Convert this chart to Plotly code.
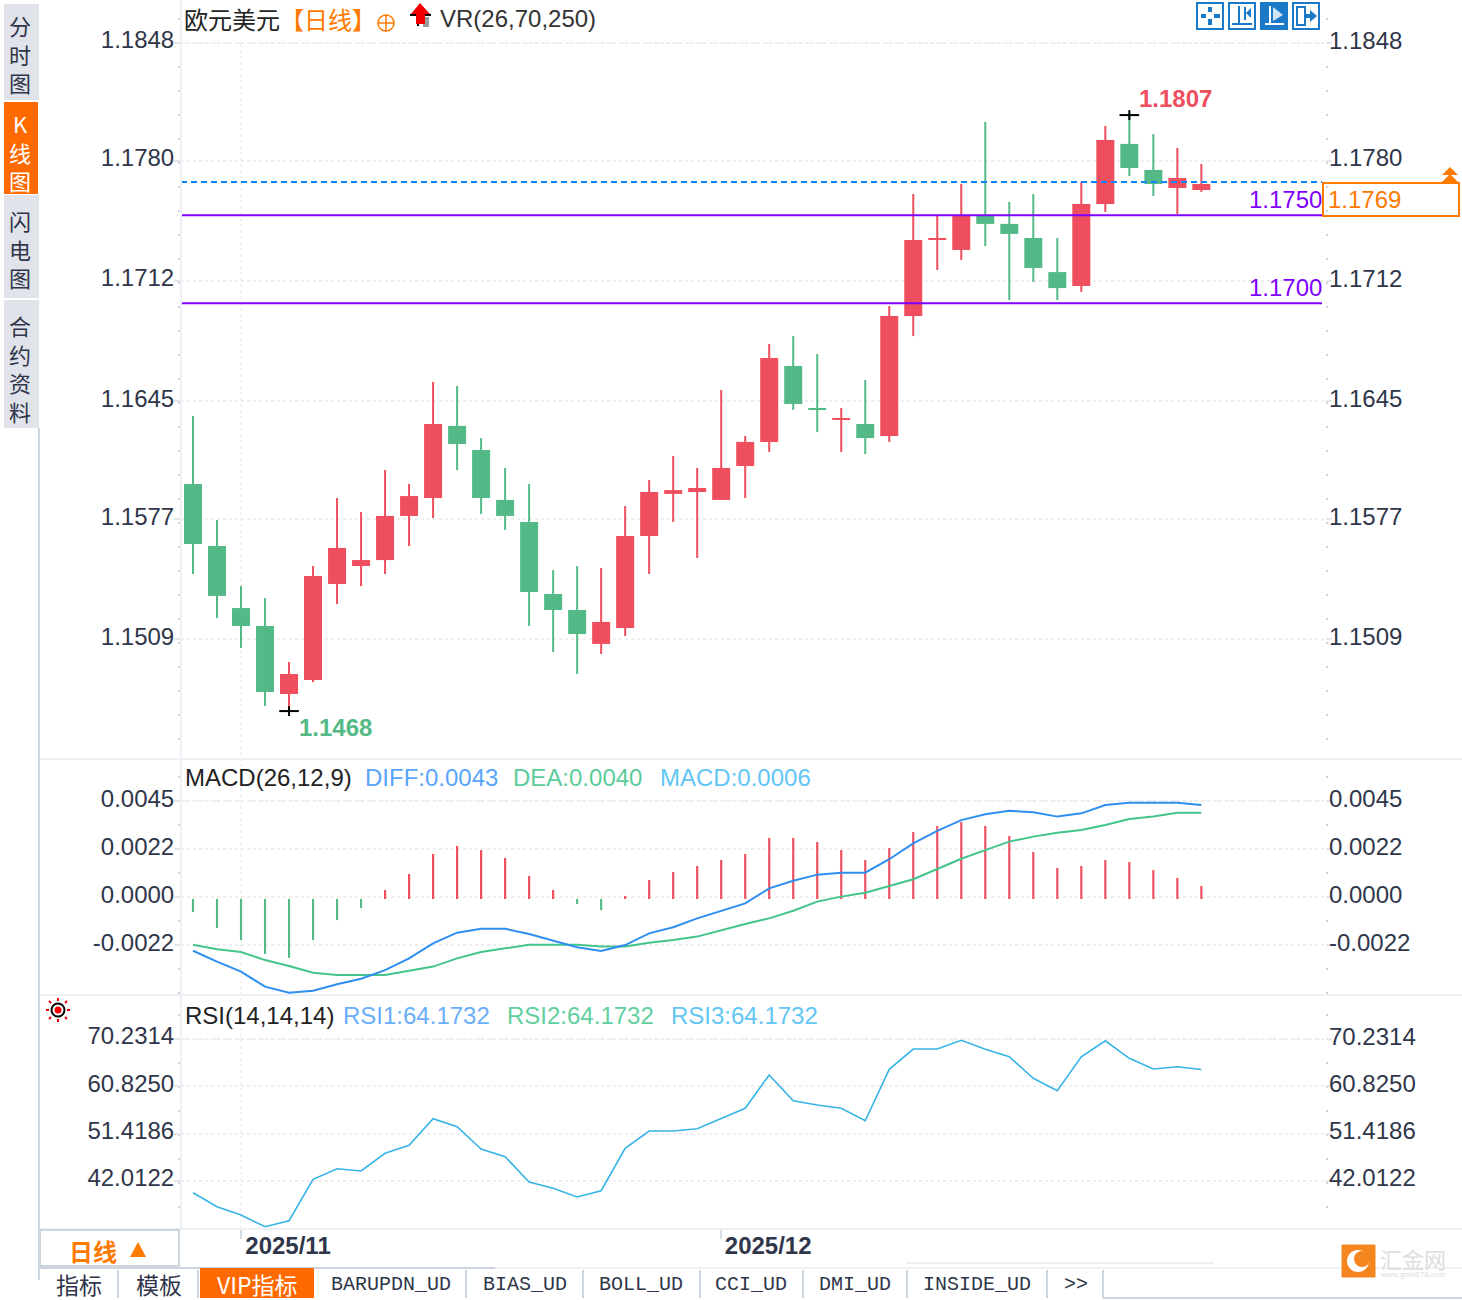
import pandas as pd
import plotly.graph_objects as go

W, H = 1462, 1300

# trading days, first bar 2025-10-30, last 2025-12-29
dates = [d.strftime("%Y-%m-%d") for d in pd.bdate_range("2025-10-30", periods=43)]
month_ticks = ["2025-11-03", "2025-12-01"]
month_labels = ["2025/11", "2025/12"]

opens = [1.15972, 1.15619, 1.15266, 1.15164, 1.14777, 1.14857, 1.15403, 1.15505, 1.15539, 1.15790,
         1.15892, 1.16302, 1.16165, 1.15881, 1.15756, 1.15346, 1.15255, 1.15062, 1.15152, 1.15676,
         1.15915, 1.15926, 1.15881, 1.16074, 1.16211, 1.16643, 1.16404, 1.16336, 1.16313, 1.16245,
         1.16927, 1.17360, 1.17303, 1.17496, 1.17451, 1.17371, 1.17177, 1.17098, 1.17564, 1.17906,
         1.17758, 1.17655, 1.17644]
highs = [1.16358, 1.15767, 1.15391, 1.15323, 1.14959, 1.15505, 1.15892, 1.15812, 1.16051, 1.15972,
         1.16552, 1.16529, 1.16233, 1.16063, 1.15972, 1.15482, 1.15505, 1.15494, 1.15846, 1.15994,
         1.16131, 1.16063, 1.16506, 1.16245, 1.16768, 1.16813, 1.16711, 1.16404, 1.16563, 1.16984,
         1.17621, 1.17496, 1.17678, 1.18031, 1.17576, 1.17621, 1.17371, 1.17689, 1.18008, 1.18070,
         1.17962, 1.17883, 1.17792]
lows = [1.15460, 1.15209, 1.15039, 1.14709, 1.14680, 1.14845, 1.15289, 1.15391, 1.15460, 1.15619,
        1.15778, 1.16051, 1.15801, 1.15710, 1.15164, 1.15016, 1.14891, 1.15005, 1.15107, 1.15460,
        1.15756, 1.15551, 1.15881, 1.15892, 1.16154, 1.16393, 1.16267, 1.16154, 1.16142, 1.16211,
        1.16813, 1.17189, 1.17246, 1.17325, 1.17018, 1.17121, 1.17018, 1.17064, 1.17519, 1.17724,
        1.17610, 1.17507, 1.17633]
closes = [1.15630, 1.15335, 1.15164, 1.14788, 1.14891, 1.15448, 1.15608, 1.15539, 1.15790, 1.15903,
          1.16313, 1.16199, 1.15892, 1.15790, 1.15357, 1.15255, 1.15118, 1.15187, 1.15676, 1.15926,
          1.15937, 1.15949, 1.16063, 1.16211, 1.16688, 1.16427, 1.16393, 1.16347, 1.16233, 1.16927,
          1.17360, 1.17371, 1.17496, 1.17451, 1.17394, 1.17200, 1.17086, 1.17564, 1.17928, 1.17769,
          1.17678, 1.17712, 1.17678]
last_price = 1.1769

macd_hist = [-0.00060, -0.00133, -0.00189, -0.00253, -0.00271, -0.00189, -0.00097, -0.00041, 0.00041, 0.00115,
             0.00207, 0.00244, 0.00225, 0.00189, 0.00106, 0.00041, -0.00023, -0.00051, 0.00014, 0.00087,
             0.00124, 0.00152, 0.00179, 0.00207, 0.00281, 0.00281, 0.00262, 0.00225, 0.00179, 0.00235,
             0.00308, 0.00336, 0.00354, 0.00336, 0.00290, 0.00216, 0.00143, 0.00152, 0.00179, 0.00170,
             0.00133, 0.00097, 0.00060]
diff = [-0.00238, -0.00288, -0.00334, -0.00403, -0.00431, -0.00422, -0.00392, -0.00367, -0.00327, -0.00273,
        -0.00204, -0.00155, -0.00137, -0.00137, -0.00161, -0.00193, -0.00222, -0.00239, -0.00212, -0.00158,
        -0.00130, -0.00089, -0.00054, -0.00020, 0.00049, 0.00084, 0.00112, 0.00121, 0.00121, 0.00183,
        0.00256, 0.00313, 0.00363, 0.00390, 0.00406, 0.00399, 0.00379, 0.00394, 0.00432, 0.00443,
        0.00443, 0.00443, 0.00432]
dea = [-0.00210, -0.00231, -0.00244, -0.00281, -0.00308, -0.00339, -0.00350, -0.00350, -0.00350, -0.00330,
       -0.00311, -0.00273, -0.00244, -0.00227, -0.00210, -0.00210, -0.00210, -0.00219, -0.00219, -0.00201,
       -0.00189, -0.00173, -0.00143, -0.00115, -0.00089, -0.00054, -0.00012, 0.00011, 0.00029, 0.00060,
       0.00091, 0.00138, 0.00185, 0.00225, 0.00264, 0.00287, 0.00305, 0.00317, 0.00340, 0.00368,
       0.00379, 0.00397, 0.00397]
rsi = [39.68, 36.90, 35.25, 32.93, 34.12, 42.35, 44.45, 44.00, 47.51, 49.10,
       54.39, 52.80, 48.37, 46.84, 41.81, 40.56, 38.83, 40.08, 48.51, 51.95,
       51.95, 52.40, 54.43, 56.46, 63.08, 57.97, 57.11, 56.46, 53.99, 64.21,
       68.24, 68.24, 69.97, 68.18, 66.71, 62.42, 59.96, 66.71, 69.89, 66.39,
       64.27, 64.72, 64.17]

price_ticks = [1.18480, 1.17809, 1.17126, 1.16443, 1.15771, 1.15089]
price_labels = ["1.1848", "1.1780", "1.1712", "1.1645", "1.1577", "1.1509"]
macd_ticks = [0.00452, 0.00231, 0.00011, -0.00210]
macd_labels = ["0.0045", "0.0022", "0.0000", "-0.0022"]
rsi_ticks = [70.2314, 60.8250, 51.4186, 42.0122]
rsi_labels = ["70.2314", "60.8250", "51.4186", "42.0122"]

RED = "#ee4e5e"
GREEN = "#53ba87"
INK = "#30364a"
GRID = "#eeeeee"
EDGE = "#ccd4dd"
PALE = "#edf0f4"
ORANGE = "#ff7a00"
PURPLE = "#7f00ff"
SANS = "Liberation Sans, Noto Sans CJK SC"
CJK = "Noto Sans CJK SC, Liberation Sans"
MONO = "Liberation Mono, Noto Sans CJK SC"


def px(x):
    return x / W


def py(y):
    return 1 - y / H


shapes = []
notes = []


def rect(x0, y0, x1, y1, fill=None, line=None, width=1):
    shapes.append(dict(type="rect", xref="paper", yref="paper", x0=px(x0), x1=px(x1), y0=py(y0), y1=py(y1),
                       fillcolor=fill or "rgba(0,0,0,0)", line=dict(color=line or "rgba(0,0,0,0)", width=width if line else 0)))


def seg(x0, y0, x1, y1, color, width=1):
    shapes.append(dict(type="line", xref="paper", yref="paper", x0=px(x0), x1=px(x1), y0=py(y0), y1=py(y1),
                       line=dict(color=color, width=width)))


def poly(points, fill):
    path = "M" + " L".join(f"{px(x):.5f},{py(y):.5f}" for x, y in points) + " Z"
    shapes.append(dict(type="path", xref="paper", yref="paper", path=path, fillcolor=fill, line=dict(width=0)))


def circle(cx, cy, r, fill=None, line=None, width=1):
    shapes.append(dict(type="circle", xref="paper", yref="paper", x0=px(cx - r), x1=px(cx + r), y0=py(cy - r), y1=py(cy + r),
                       fillcolor=fill or "rgba(0,0,0,0)", line=dict(color=line or "rgba(0,0,0,0)", width=width if line else 0)))


def label(x, y, text, color=INK, size=24, anchor="left", family=SANS):
    # annotations carry about 1.5px of padding, take it back out
    nudge = {"left": -1.5, "right": 1.5, "center": 0}[anchor]
    notes.append(dict(xref="paper", yref="paper", x=px(x + nudge), y=py(y), text=text, showarrow=False, xanchor=anchor, yanchor="middle",
                      align="center", borderpad=0, font=dict(color=color, size=size, family=family)))


fig = go.Figure()

# wicks and bodies as floating bars, the body height is then exact and a doji stays 2px
bar_tone = [RED if c >= o else GREEN for o, c in zip(opens, closes)]
fig.add_trace(go.Bar(x=dates, base=lows, y=[h - l for h, l in zip(highs, lows)], width=0.0833,
                     marker=dict(color=bar_tone, line=dict(width=0)), xaxis="x", yaxis="y", showlegend=False))
fig.add_trace(go.Bar(x=dates, base=[min(o, c) for o, c in zip(opens, closes)], y=[abs(c - o) for o, c in zip(opens, closes)], width=0.75,
                     marker=dict(color=bar_tone, line=dict(width=0)), xaxis="x", yaxis="y", showlegend=False))
# crosshair ticks at the extremes
fig.add_trace(go.Scatter(x=[dates[39], dates[4]], y=[max(highs), min(lows)], mode="markers", xaxis="x", yaxis="y",
                         marker=dict(symbol="line-ew", size=14, line=dict(color="black", width=2)), showlegend=False))
fig.add_trace(go.Scatter(x=[dates[39], dates[4]], y=[max(highs), min(lows)], mode="markers", xaxis="x", yaxis="y",
                         marker=dict(symbol="line-ns", size=7, line=dict(color="black", width=2)), showlegend=False))

bar_colors = [RED if v >= 0 else GREEN for v in macd_hist]
fig.add_trace(go.Bar(x=dates, y=macd_hist, width=0.09, marker=dict(color=bar_colors, line=dict(width=0)),
                     xaxis="x2", yaxis="y2", showlegend=False))
fig.add_trace(go.Scatter(x=dates, y=dea, mode="lines", line=dict(color="#42c48b", width=2), xaxis="x2", yaxis="y2", showlegend=False))
fig.add_trace(go.Scatter(x=dates, y=diff, mode="lines", line=dict(color="#2f8ff0", width=2), xaxis="x2", yaxis="y2", showlegend=False))
fig.add_trace(go.Scatter(x=dates, y=rsi, mode="lines", line=dict(color="#37b4e6", width=1.6), xaxis="x3", yaxis="y3", showlegend=False))

# level lines on the price panel
for level in [1.1750, 1.1700]:
    shapes.append(dict(type="line", xref="paper", yref="y", x0=px(180), x1=px(1322), y0=level, y1=level,
                       line=dict(color=PURPLE, width=2)))
shapes.append(dict(type="line", xref="paper", yref="y", x0=px(181), x1=px(1322), y0=last_price, y1=last_price,
                   line=dict(color="#0a84ff", width=2, dash="6px,4px")))
# first month marker runs through all the panels
shapes.append(dict(type="line", xref="x", yref="paper", x0=month_ticks[0], x1=month_ticks[0], y0=py(1229), y1=py(44),
                   line=dict(color=GRID, width=1.5, dash="dot"), layer="below"))
# the top gridline of each panel is dashed
for axis, value in [("y", price_ticks[0]), ("y2", macd_ticks[0]), ("y3", rsi_ticks[0])]:
    shapes.append(dict(type="line", xref="paper", yref=axis, x0=px(181), x1=px(1325), y0=value, y1=value,
                       line=dict(color=PALE, width=1.5, dash="6px,5px"), layer="below"))

# panel frames
seg(181, 0, 181, 1229, PALE, 2)
seg(39, 428, 39, 1280, EDGE, 2)
for y in [759, 995, 1229]:
    seg(40, y, W, y, PALE, 2)

# left side tabs
rect(4, 4, 39, 100, fill="#e1e3eb")
rect(4, 102, 38, 194, fill="#ff6a00")
rect(4, 195, 39, 298, fill="#e1e3eb")
rect(4, 300, 39, 428, fill="#e1e3eb")
label(20, 54, "分<br>时<br>图", anchor="center", family=CJK, size=22)
label(20, 152, "K<br>线<br>图", color="white", anchor="center", family=CJK, size=22)
label(20, 248, "闪<br>电<br>图", anchor="center", family=CJK, size=22)
label(20, 368, "合<br>约<br>资<br>料", anchor="center", family=CJK, size=22)

# bottom tabs
rect(40, 1230, 179, 1266, line=EDGE, width=2)
label(69, 1250, "<b>日线</b>", color=ORANGE, family=CJK, size=24)
poly([(138, 1242), (146, 1257), (130, 1257)], ORANGE)
seg(40, 1268, 495, 1268, EDGE, 2)
seg(495, 1268, W, 1268, PALE, 2)
seg(906, 1263, 1214, 1263, PALE, 2)
seg(1103, 1298, W, 1298, EDGE, 2)
rect(200, 1268, 314, 1298, fill="#ff6a00")
for x in [118, 198, 466, 583, 700, 803, 907, 1047, 1103]:
    seg(x, 1270, x, 1298, EDGE, 2)
label(79, 1284, "指标", anchor="center", family=CJK, size=23)
label(159, 1284, "模板", anchor="center", family=CJK, size=23)
label(257, 1284, "VIP指标", color="white", anchor="center", family=CJK, size=23)
for x, tab in [(391, "BARUPDN_UD"), (525, "BIAS_UD"), (641, "BOLL_UD"), (751, "CCI_UD"), (855, "DMI_UD"), (977, "INSIDE_UD"), (1076, ">>")]:
    label(x, 1284, tab, anchor="center", family=MONO, size=20)

# header texts
label(185, 19, "欧元美元", color="#222222", family=CJK, size=24)
label(280, 19, "【日线】", color=ORANGE, family=CJK, size=24)
label(440, 19, "VR(26,70,250)", color="#333333", size=24)
label(185, 777, "MACD(26,12,9)", color="#222222")
label(365, 777, "DIFF:0.0043", color="#58a5fb")
label(513, 777, "DEA:0.0040", color="#5ccb9a")
label(660, 777, "MACD:0.0006", color="#62c6f5")
label(185, 1015, "RSI(14,14,14)", color="#222222")
label(343, 1015, "RSI1:64.1732", color="#6aaefc")
label(507, 1015, "RSI2:64.1732", color="#62cf9f")
label(671, 1015, "RSI3:64.1732", color="#62c6f5")

# right hand scale
for value, text in zip(price_ticks, price_labels):
    notes.append(dict(xref="paper", yref="y", x=px(1326.5), y=value, yshift=3, text=text, showarrow=False, xanchor="left", yanchor="middle",
                      font=dict(color=INK, size=24, family=SANS)))
for value, text in zip(macd_ticks, macd_labels):
    notes.append(dict(xref="paper", yref="y2", x=px(1326.5), y=value, yshift=2, text=text, showarrow=False, xanchor="left", yanchor="middle",
                      font=dict(color=INK, size=24, family=SANS)))
for value, text in zip(rsi_ticks, rsi_labels):
    notes.append(dict(xref="paper", yref="y3", x=px(1326.5), y=value, yshift=3, text=text, showarrow=False, xanchor="left", yanchor="middle",
                      font=dict(color=INK, size=24, family=SANS)))

# price callouts
label(1139, 99, f"<b>{max(highs):.4f}</b>", color=RED)
label(299, 727, f"<b>{min(lows):.4f}</b>", color=GREEN)
label(1321, 199, "1.1750", color=PURPLE, anchor="right")
label(1321, 287, "1.1700", color=PURPLE, anchor="right")
rect(1323, 183, 1459, 216, line=ORANGE, width=2)
label(1328, 199, f"{last_price:.4f}", color=ORANGE)
poly([(1450, 167), (1458, 175), (1442, 175)], ORANGE)
poly([(1450, 174), (1458, 182), (1442, 182)], ORANGE)

# small glyphs
circle(386, 23, 8, line=ORANGE, width=1.5)
seg(378, 23, 394, 23, ORANGE, 1.5)
seg(386, 15, 386, 31, ORANGE, 1.5)
poly([(423, 17), (429, 17), (429, 27), (423, 27)], "#9a9a9a")
seg(410, 15, 431, 15, "black", 2)
seg(418, 16, 418, 26, "black", 2)
poly([(420, 3), (430, 14), (425, 14), (425, 24), (416, 24), (416, 14), (411, 14)], "#f00000")
circle(58, 1010, 6.5, line="black", width=2)
circle(58, 1010, 3.5, fill="#f00000")
for x0, y0, x1, y1 in [(58, 998, 58, 1001), (58, 1019, 58, 1022), (46, 1010, 49, 1010), (67, 1010, 70, 1010),
                       (49, 1001, 51, 1003), (65, 1017, 67, 1019), (49, 1019, 51, 1017), (65, 1003, 67, 1001)]:
    seg(x0, y0, x1, y1, "#f00000", 2)

# toolbar buttons
BLUE = "#1b7ac7"
rect(1197, 3, 1223, 29, line=BLUE, width=2)
for x0, y0, x1, y1 in [(1208, 7, 1212, 12), (1208, 19, 1212, 25), (1201, 14, 1206, 18), (1214, 14, 1220, 18)]:
    rect(x0, y0, x1, y1, fill=BLUE)
rect(1229, 3, 1255, 29, line=BLUE, width=2)
seg(1239, 6, 1239, 25, BLUE, 2)
seg(1245, 7, 1245, 20, BLUE, 2)
seg(1232, 24, 1252, 24, BLUE, 2)
poly([(1246, 13), (1251, 8), (1251, 18)], BLUE)
rect(1261, 3, 1287, 29, fill=BLUE, line=BLUE, width=2)
seg(1270, 6, 1270, 25, "white", 2)
seg(1265, 24, 1284, 24, "white", 2)
poly([(1273, 7), (1283, 15), (1273, 21)], "#cfe4f5")
rect(1293, 3, 1319, 29, line=BLUE, width=2)
rect(1297, 7, 1305, 25, line=BLUE, width=2)
seg(1305, 16, 1312, 16, BLUE, 4)
poly([(1317, 16), (1310, 10), (1310, 22)], BLUE)

# watermark
shapes.append(dict(type="rect", xref="paper", yref="paper", x0=px(1342), x1=px(1375), y0=py(1245), y1=py(1277),
                   fillcolor="#f5861f", line=dict(color="#f5861f", width=1)))
circle(1358, 1261, 11, fill="white")
circle(1362, 1259, 8, fill="#f5861f")
label(1380, 1258, "汇金网", color="#dedede", family=CJK, size=22)
label(1380, 1274, "www.gold678.com", color="#dddddd", size=8)


def x_axis(**extra):
    base = dict(type="category", categoryorder="array", categoryarray=dates, domain=[px(181), px(1325)],
                range=[-0.5, 47.15], showgrid=False, zeroline=False, showline=False,
                showticklabels=False, ticks="", fixedrange=True)
    base.update(extra)
    return base


def y_axis(top_px, bottom_px, top_value, bottom_value, ticks, labels, minor_step, **extra):
    base = dict(domain=[py(bottom_px), py(top_px)], range=[bottom_value, top_value], tickmode="array", tickvals=ticks, ticktext=labels,
                tickfont=dict(color=INK, size=24, family=SANS), ticks="outside", ticklen=6, tickwidth=2, tickcolor="#e3e6ea",
                mirror="ticks", showline=False, zeroline=False, showgrid=True, gridcolor=GRID, griddash="dot", gridwidth=1.5,
                ticklabelshift=-2, ticklabelstandoff=-5, fixedrange=True,
                minor=dict(ticks="outside", ticklen=2, tickwidth=2, tickcolor="#cfd5dc", tick0=ticks[0], dtick=minor_step, showgrid=False))
    base.update(extra)
    return base


fig.update_layout(
    width=W, height=H, margin=dict(l=0, r=0, t=0, b=0), paper_bgcolor="white", plot_bgcolor="white",
    font=dict(family=SANS), showlegend=False, barmode="overlay", hovermode=False,
    xaxis=x_axis(anchor="y"),
    xaxis2=x_axis(anchor="y2"),
    xaxis3=x_axis(anchor="y3", showticklabels=True, tickmode="array", tickvals=month_ticks, ticktext=[f"<b>{m}</b>" for m in month_labels],
                  ticks="outside", ticklen=9, tickwidth=1.5, tickcolor="#d7dce2", tickfont=dict(color=INK, size=24, family=SANS),
                  ticklabelshift=47, ticklabelstandoff=-14),
    yaxis=y_axis(0, 758, 1.187246, 1.144131, price_ticks, price_labels, 0.0013651, anchor="x", ticklabelshift=-3),
    yaxis2=y_axis(760, 994, 0.006394, -0.00437, macd_ticks, macd_labels, 0.001104, anchor="x2"),
    yaxis3=y_axis(996, 1229, 78.78, 32.47, rsi_ticks, rsi_labels, 4.77, anchor="x3", ticklabelshift=-3),
    shapes=shapes, annotations=notes,
)

fig.write_html("out.html", config={"displayModeBar": False},
               post_script="document.body.style.margin='0';document.body.style.overflow='hidden';")
